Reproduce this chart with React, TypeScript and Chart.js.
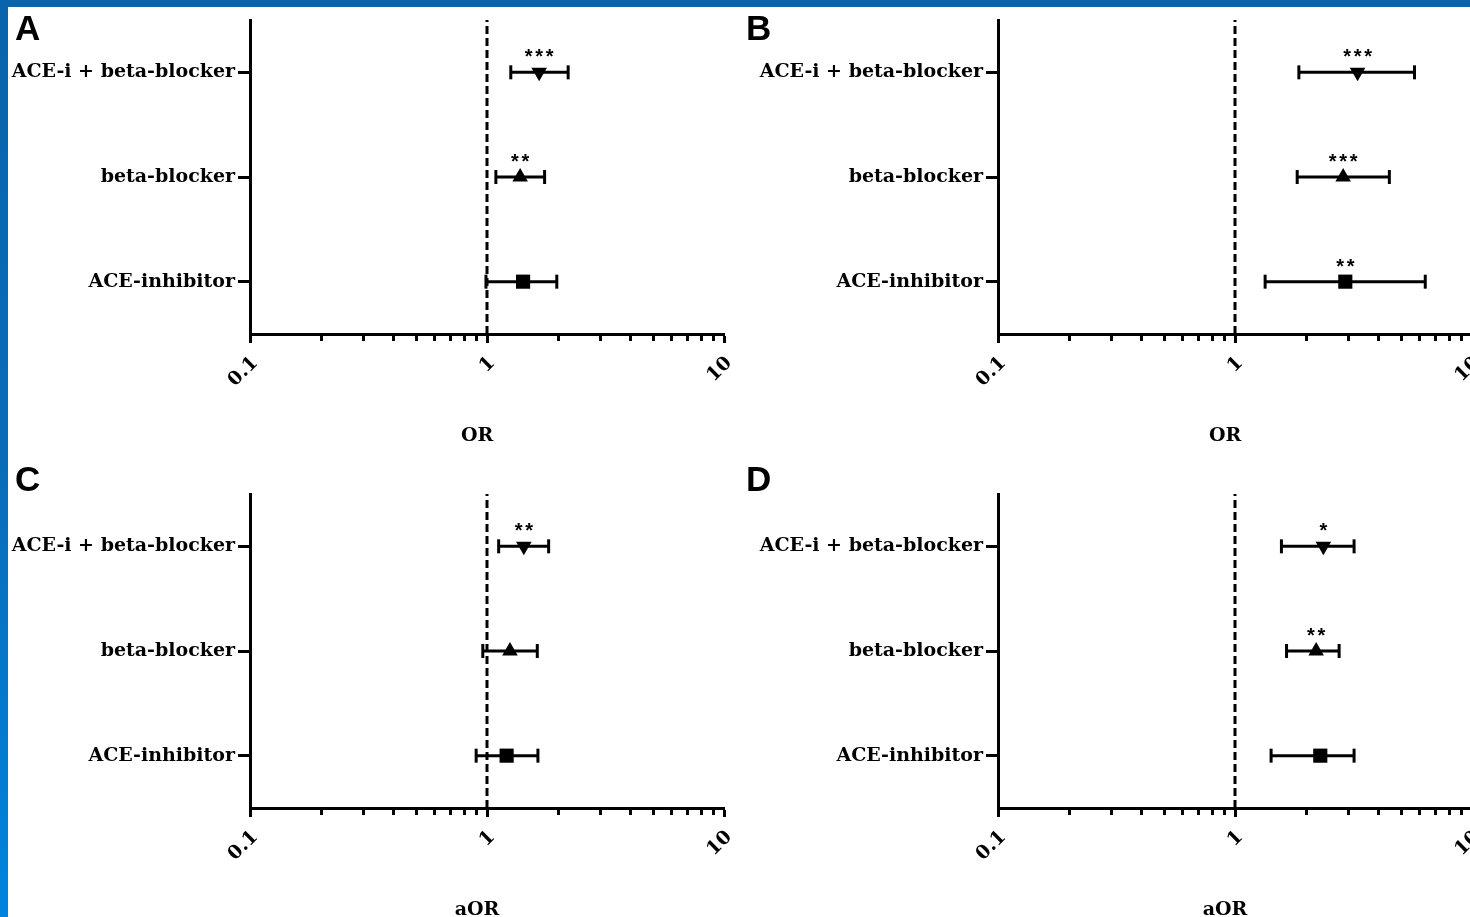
import React, { useEffect, useRef } from 'react';
import { Chart, registerables } from 'chart.js';

Chart.register(...registerables);

// ---------- data ----------
const categories = ['ACE-i + beta-blocker', 'beta-blocker', 'ACE-inhibitor'];
const categoryPositions = [3, 2, 1];
const xTickLabels = ['0.1', '1', '10'];
const markerStyles = ['triangle', 'triangle', 'rect'];
const markerRotations = [180, 0, 0];
const markerRadii = [9, 9, 10];

const oddsA = [1.66, 1.38, 1.42];
const lowerA = [1.26, 1.09, 0.99];
const upperA = [2.2, 1.75, 1.97];
const starsA = ['***', '**', ''];

const oddsB = [3.29, 2.86, 2.92];
const lowerB = [1.86, 1.83, 1.34];
const upperB = [5.72, 4.48, 6.35];
const starsB = ['***', '***', '**'];

const oddsC = [1.43, 1.25, 1.21];
const lowerC = [1.12, 0.96, 0.9];
const upperC = [1.82, 1.63, 1.64];
const starsC = ['**', '', ''];

const oddsD = [2.36, 2.2, 2.29];
const lowerD = [1.57, 1.65, 1.42];
const upperD = [3.18, 2.75, 3.18];
const starsD = ['*', '**', ''];

const referenceValue = 1;
const axisTitleOR = 'OR';
const axisTitleAOR = 'aOR';

// ---------- helpers ----------
const xMajors = xTickLabels.map(Number);
const isMajorValue = (v: number) => xMajors.some((m) => Math.abs(m - v) < 1e-9 * Math.max(1, m));

const SERIF = '"DejaVu Serif", "Liberation Serif", serif';
const PANEL_W = 748;
const PANEL_H = 474;

type PanelProps = {
  odds: number[];
  lower: number[];
  upper: number[];
  stars: string[];
  title: string;
  left: number;
  top: number;
};

function ForestPanel({ odds, lower, upper, stars, title, left, top }: PanelProps) {
  const ref = useRef<HTMLCanvasElement | null>(null);

  useEffect(() => {
    const canvas = ref.current;
    if (!canvas) return;

    const markerData = categoryPositions.map((y, i) => ({ x: odds[i], y }));
    const ciDatasets = categoryPositions.map((y, i) => ({
      type: 'line' as const,
      data: [
        { x: lower[i], y },
        { x: upper[i], y },
      ],
      showLine: true,
      borderColor: '#000',
      borderWidth: 3,
      pointStyle: 'line',
      pointRotation: 90,
      pointRadius: 7,
      pointBorderWidth: 3,
      pointBorderColor: '#000',
      pointBackgroundColor: '#000',
      tension: 0,
    }));

    const decorPlugin = {
      id: 'forestDecor',
      afterDraw(chart: any) {
        const { ctx, chartArea, scales } = chart;
        const xs = scales.x;
        const ys = scales.y;
        ctx.save();
        // minor ticks
        ctx.strokeStyle = '#000';
        ctx.lineWidth = 3;
        ctx.lineCap = 'butt';
        xs.ticks.forEach((t: any) => {
          if (isMajorValue(t.value)) return;
          const px = Math.round(xs.getPixelForValue(t.value)) + 0.5;
          ctx.beginPath();
          ctx.moveTo(px, chartArea.bottom);
          ctx.lineTo(px, chartArea.bottom + 7);
          ctx.stroke();
        });
        // significance stars
        ctx.fillStyle = '#000';
        ctx.font = 'bold 20px "Liberation Sans", Arial, sans-serif';
        ctx.textAlign = 'center';
        ctx.textBaseline = 'alphabetic';
        stars.forEach((s, i) => {
          if (!s) return;
          const px = xs.getPixelForValue(odds[i]);
          const py = ys.getPixelForValue(categoryPositions[i]);
          for (let k = 0; k < s.length; k++) {
            ctx.fillText(s[k], px + (k - (s.length - 1) / 2) * 10.5, py - 9);
          }
        });
        ctx.restore();
      },
    };

    const chart = new Chart(canvas, {
      type: 'scatter',
      data: {
        datasets: [
          {
            type: 'scatter',
            data: markerData,
            pointStyle: markerStyles as any,
            rotation: markerRotations as any,
            pointRadius: markerRadii as any,
            backgroundColor: '#000',
            borderColor: '#000',
            borderWidth: 0,
          } as any,
          ...ciDatasets,
          {
            type: 'line',
            data: [
              { x: referenceValue, y: 0.5 },
              { x: referenceValue, y: 3.5 },
            ],
            showLine: true,
            borderColor: '#000',
            borderWidth: 3,
            borderDash: [8, 4],
            pointRadius: 0,
          } as any,
        ],
      },
      options: {
        responsive: false,
        maintainAspectRatio: false,
        animation: false,
        events: [],
        layout: { padding: { top: 20, right: 24, bottom: 0, left: 0 } },
        plugins: {
          legend: { display: false },
          tooltip: { enabled: false },
        },
        scales: {
          x: {
            type: 'logarithmic',
            min: xMajors[0],
            max: xMajors[xMajors.length - 1],
            afterBuildTicks: (scale: any) => {
              scale.ticks = scale.ticks.filter((t: any) => {
                const m = t.value / Math.pow(10, Math.floor(Math.log10(t.value) + 1e-9));
                return Math.abs(m - Math.round(m)) < 1e-6;
              });
            },
            afterFit: (scale: any) => {
              scale.height = 140;
              scale.paddingLeft = 0;
              scale.paddingRight = 0;
            },
            border: { display: true, color: '#000', width: 3 },
            grid: {
              display: true,
              drawOnChartArea: false,
              drawTicks: true,
              tickLength: 9,
              tickWidth: 3,
              tickColor: (c: any) => (c.tick && isMajorValue(c.tick.value) ? '#000' : 'rgba(0,0,0,0)'),
            },
            ticks: {
              autoSkip: false,
              minRotation: 45,
              maxRotation: 45,
              padding: 9,
              labelOffset: 5,
              color: '#000',
              font: { family: SERIF, size: 19, weight: 'bold' },
              callback: (value: any) => {
                const v = Number(value);
                const idx = xMajors.findIndex((m) => Math.abs(m - v) < 1e-9 * Math.max(1, m));
                return idx >= 0 ? xTickLabels[idx] : '';
              },
            },
            title: {
              display: true,
              text: title + '\u00a0\u00a0\u00a0',
              color: '#000',
              font: { family: SERIF, size: 19, weight: 'bold' },
              padding: { top: 0, bottom: 27 },
            },
          } as any,
          y: {
            type: 'linear',
            min: 0.5,
            max: 3.5,
            afterBuildTicks: (scale: any) => {
              scale.ticks = categoryPositions.map((v) => ({ value: v }));
            },
            afterFit: (scale: any) => {
              scale.width = 250;
            },
            border: { display: true, color: '#000', width: 3 },
            grid: {
              display: true,
              drawOnChartArea: false,
              drawTicks: true,
              tickLength: 12,
              tickWidth: 3,
              tickColor: '#000',
            },
            ticks: {
              autoSkip: false,
              padding: 3,
              color: '#000',
              font: { family: SERIF, size: 19, weight: 'bold' },
              callback: (value: any) => {
                const idx = categoryPositions.indexOf(Number(value));
                return idx >= 0 ? categories[idx] : '';
              },
            },
          } as any,
        },
      },
      plugins: [decorPlugin],
    } as any);

    return () => {
      chart.destroy();
    };
  }, [odds, lower, upper, stars, title]);

  return (
    <canvas
      ref={ref}
      width={PANEL_W}
      height={PANEL_H}
      style={{ position: 'absolute', left, top, width: PANEL_W, height: PANEL_H }}
    />
  );
}

const letterStyle: React.CSSProperties = {
  position: 'absolute',
  fontFamily: '"Liberation Sans", Arial, sans-serif',
  fontWeight: 700,
  fontSize: 35,
  lineHeight: 1,
  color: '#000',
};

export default function App() {
  return (
    <div
      style={{
        position: 'fixed',
        left: 0,
        top: 0,
        width: 1470,
        height: 917,
        overflow: 'hidden',
        background: '#fff',
      }}
    >
      <ForestPanel odds={oddsA} lower={lowerA} upper={upperA} stars={starsA} title={axisTitleOR} left={0} top={0} />
      <ForestPanel odds={oddsB} lower={lowerB} upper={upperB} stars={starsB} title={axisTitleOR} left={748} top={0} />
      <ForestPanel odds={oddsC} lower={lowerC} upper={upperC} stars={starsC} title={axisTitleAOR} left={0} top={474} />
      <ForestPanel odds={oddsD} lower={lowerD} upper={upperD} stars={starsD} title={axisTitleAOR} left={748} top={474} />
      <div style={{ ...letterStyle, left: 15, top: 10 }}>A</div>
      <div style={{ ...letterStyle, left: 746, top: 10 }}>B</div>
      <div style={{ ...letterStyle, left: 15, top: 461 }}>C</div>
      <div style={{ ...letterStyle, left: 746, top: 461 }}>D</div>
      <div style={{ position: 'absolute', left: 0, top: 0, width: 1470, height: 7, background: '#0864ac' }} />
      <div
        style={{
          position: 'absolute',
          left: 0,
          top: 0,
          width: 8,
          height: 917,
          background: 'linear-gradient(#0864ac, #0a6cb8 50%, #0084de)',
        }}
      />
    </div>
  );
}
